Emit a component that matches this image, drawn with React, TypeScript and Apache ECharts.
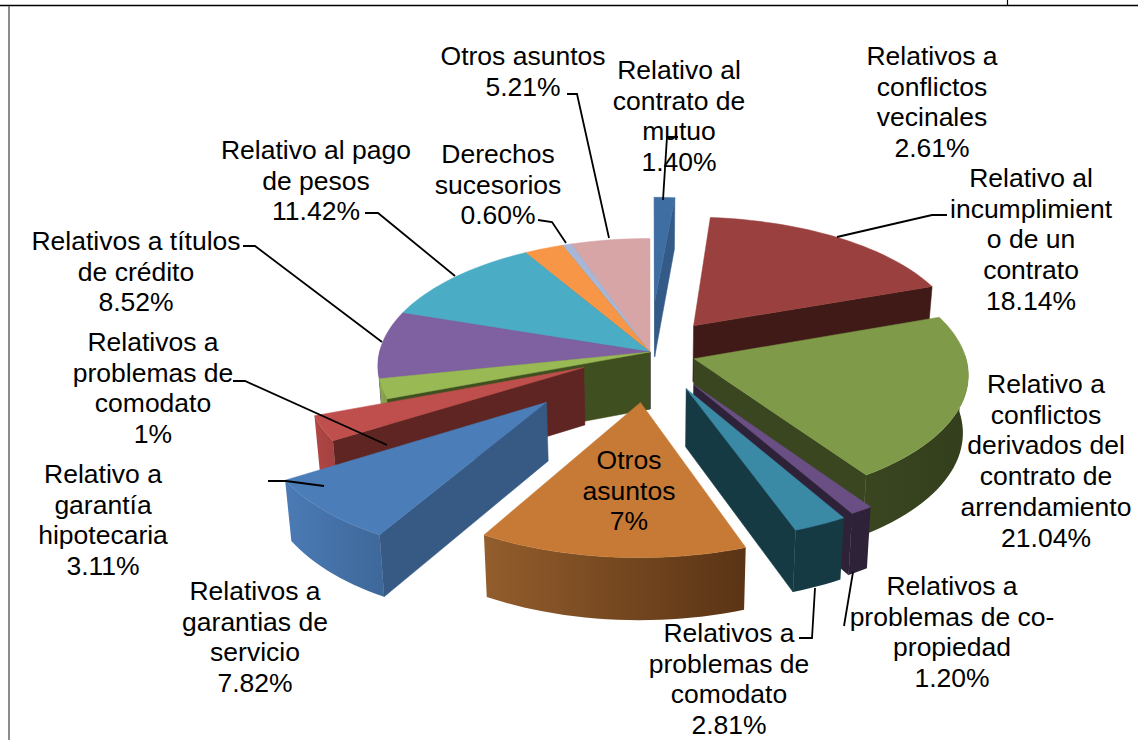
import React, { useEffect, useRef } from "react";
import * as echarts from "echarts";

// Slice values, clockwise from 12 o'clock
const sliceNames = [
  "Relativo al contrato de mutuo", "Relativo al incumplimiento de un contrato",
  "Relativo a conflictos derivados del contrato de arrendamiento", "Relativos a problemas de co-propiedad",
  "Relativos a problemas de comodato", "Otros asuntos", "Relativos a garantias de servicio",
  "Relativo a garantía hipotecaria", "Relativos a problemas de comodato (2)", "Relativos a títulos de crédito",
  "Relativo al pago de pesos", "Relativos a conflictos vecinales", "Derechos sucesorios", "Otros asuntos (2)",
];
const sliceValues = [1.4, 18.14, 21.04, 1.2, 2.81, 13.72, 7.82, 3.11, 2.5, 8.52, 11.42, 2.61, 0.6, 5.21];
const sliceExplode = [0.42, 0.27, 0.17, 0.3, 0.31, 0.385, 0.53, 0.27, 0, 0, 0, 0, 0, 0];

const topColors = ["#3F6EA3", "#9A403E", "#7F9A48", "#6A4F85", "#3A8AA5", "#C77A35", "#4B7DB8", "#BE4F4C", "#98B954", "#7F60A0", "#4BACC6", "#F79646", "#A7B7D8", "#D7A5A6"];
const cutColors = ["#345B88", "#3F1A17", "#3A4620", "#2E2238", "#163A44", "#5B3416", "#375A85", "#5E2523", "#404F20", "#3E2D52", "#1F5563", "#7A4515", "#50607F", "#6C4848"];
const wallLeft = ["#3F6EA3", "#4A1F1D", "#3A4620", "#2E2238", "#163A44", "#935D2C", "#4B7AB5", "#B04744", "#8AA84C", "#6D5290", "#3F93AA", "#C97A36", "#8C9CBC", "#B88C8D"];
const wallRight = ["#345B88", "#3F1A17", "#333E1C", "#2E2238", "#163A44", "#5A3415", "#3E689A", "#A04140", "#7C9844", "#5D4680", "#34808F", "#A9662C", "#7A89A6", "#A27B7C"];

type Label = { lines: string[]; cx: number; y: number };
const labels: Label[] = [
  { lines: ["Otros asuntos", "5.21%"], cx: 523, y: 56 },
  { lines: ["Relativo al", "contrato de", "mutuo", "1.40%"], cx: 679, y: 70 },
  { lines: ["Relativos a", "conflictos", "vecinales", "2.61%"], cx: 932, y: 56 },
  { lines: ["Relativo al", "incumplimient", "o de un", "contrato", "18.14%"], cx: 1031, y: 178 },
  { lines: ["Relativo a", "conflictos", "derivados del", "contrato de", "arrendamiento", "21.04%"], cx: 1046, y: 384 },
  { lines: ["Relativos a", "problemas de co-", "propiedad", "1.20%"], cx: 952, y: 586 },
  { lines: ["Relativos a", "problemas de", "comodato", "2.81%"], cx: 729, y: 633 },
  { lines: ["Otros", "asuntos", "7%"], cx: 629, y: 460 },
  { lines: ["Relativos a", "garantias de", "servicio", "7.82%"], cx: 255, y: 591 },
  { lines: ["Relativo a", "garantía", "hipotecaria", "3.11%"], cx: 103, y: 474 },
  { lines: ["Relativos a", "problemas de", "comodato", "1%"], cx: 153, y: 342 },
  { lines: ["Relativos a títulos", "de crédito", "8.52%"], cx: 136, y: 241 },
  { lines: ["Relativo al pago", "de pesos", "11.42%"], cx: 316, y: 150 },
  { lines: ["Derechos", "sucesorios", "0.60%"], cx: 498, y: 154 },
];

const leaders: number[][][] = [
  [[567, 94], [577, 94], [609, 238]],
  [[678, 137], [667, 137], [663, 200]],
  [[947, 215], [932, 215], [837, 237]],
  [[538, 220], [552, 222], [566, 243]],
  [[365, 213], [378, 213], [455, 276]],
  [[243, 246], [255, 246], [382, 342]],
  [[233, 381], [245, 381], [387, 445]],
  [[268, 481], [286, 481], [324, 486]],
  [[799, 638], [812, 638], [815, 588]],
  [[844, 626], [853, 572]],
];

const CX = 650, CY = 352, RX = 270.5, RY = 126, K = 0.11;
const LINE_H = 30.7;

function project(X: number, T: number): number[] {
  const w = 1 - K * T;
  return [CX + (RX * X) / w, CY + (RY * T) / w];
}
function drop(p: number[], T: number): number[] {
  return [CX + (p[0] - CX) * 0.983, p[1] + 57 + 4 * T];
}

const total = sliceValues.reduce((a, b) => a + b, 0);
let running = 0;
const rows = sliceValues.map((v, i) => {
  const start = (running / total) * 360;
  running += v;
  const end = (running / total) * 360;
  return [i, start, end, sliceExplode[i]];
});
const drawRows = rows.slice().sort((a, b) => {
  const f = (r: number[]) => -Math.cos((((r[1] + r[2]) / 2) * Math.PI) / 180);
  return f(a) - f(b);
});

function renderSlice(params: any, api: any) {
  const i = api.value(0) as number;
  const a0 = api.value(1) as number;
  const a1 = api.value(2) as number;
  const d = api.value(3) as number;
  const order = params.dataIndex;
  const rad = Math.PI / 180;
  const mid = ((a0 + a1) / 2) * rad;
  const ox = d * Math.sin(mid);
  const ot = -d * Math.cos(mid);
  const at = (deg: number) => {
    const X = ox + Math.sin(deg * rad);
    const T = ot - Math.cos(deg * rad);
    return { p: project(X, T), T };
  };
  const samples = (from: number, to: number) => {
    const n = Math.max(2, Math.ceil((to - from) / 2));
    const out = [];
    for (let s = 0; s <= n; s++) out.push(at(from + ((to - from) * s) / n));
    return out;
  };
  const tipT = ot;
  const tip = project(ox, ot);
  const arc = samples(a0, a1);
  const children: any[] = [];
  let zz = order * 10;
  const poly = (points: number[][], fill: any) => {
    children.push({
      type: "polygon",
      z2: zz++,
      shape: { points },
      style: { fill, stroke: typeof fill === "string" ? fill : "none", lineWidth: 0.5 },
    });
  };
  const midP = at((a0 + a1) / 2).p;
  const edge = (corner: { p: number[]; T: number }) => {
    const ex = corner.p[0] - tip[0];
    const ey = corner.p[1] - tip[1];
    const cr = ex * (midP[1] - tip[1]) - ey * (midP[0] - tip[0]);
    if (cr * ex < 0) {
      poly([tip, corner.p, drop(corner.p, corner.T), drop(tip, tipT)], cutColors[i]);
    }
  };
  edge(arc[0]);
  edge(arc[arc.length - 1]);
  const w0 = Math.max(a0, 88);
  const w1 = Math.min(a1, 272);
  if (w1 > w0) {
    const wall = samples(w0, w1);
    const pts = wall.map((s) => s.p).concat(wall.slice().reverse().map((s) => drop(s.p, s.T)));
    poly(pts, new echarts.graphic.LinearGradient(0, 0, 1, 0, [
      { offset: 0, color: wallLeft[i] },
      { offset: 1, color: wallRight[i] },
    ]));
  }
  poly([tip].concat(arc.map((s) => s.p)), topColors[i]);
  return { type: "group", children };
}

export default function App() {
  const ref = useRef<HTMLDivElement>(null);
  useEffect(() => {
    const chart = echarts.init(ref.current!, null, { renderer: "svg", width: 1138, height: 740 });
    const textEls: any[] = [];
    labels.forEach((l) => {
      l.lines.forEach((line, j) => {
        textEls.push({
          type: "text",
          z: 20,
          x: l.cx,
          y: l.y + j * LINE_H,
          style: {
            text: line,
            fill: "#000",
            font: "26.5px 'Liberation Sans', Arial, sans-serif",
            align: "center",
            verticalAlign: "middle",
          },
        });
      });
    });
    const lineEls = leaders.map((pts) => ({
      type: "polyline",
      z: 21,
      shape: { points: pts },
      style: { stroke: "#000", lineWidth: 1.8, fill: "none" },
    }));
    const borderEls = [
      { type: "line", z: 30, shape: { x1: 0, y1: 5.5, x2: 1138, y2: 5.5 }, style: { stroke: "#000", lineWidth: 1.6 } },
      { type: "line", z: 30, shape: { x1: 1007.5, y1: 0, x2: 1007.5, y2: 5 }, style: { stroke: "#000", lineWidth: 1.2 } },
      { type: "line", z: 30, shape: { x1: 9, y1: 6, x2: 9, y2: 740 }, style: { stroke: "#6E6E6E", lineWidth: 1.6 } },
    ];
    chart.setOption({
      animation: false,
      backgroundColor: "#ffffff",
      graphic: { elements: [...borderEls, ...lineEls, ...textEls] },
      series: [
        {
          type: "custom",
          coordinateSystem: "none",
          silent: true,
          clip: false,
          renderItem: renderSlice,
          data: drawRows,
          name: sliceNames.join(", "),
        },
      ],
    });
    return () => chart.dispose();
  }, []);
  return <div ref={ref} style={{ position: "absolute", left: 0, top: 0, width: 1138, height: 740 }} />;
}
